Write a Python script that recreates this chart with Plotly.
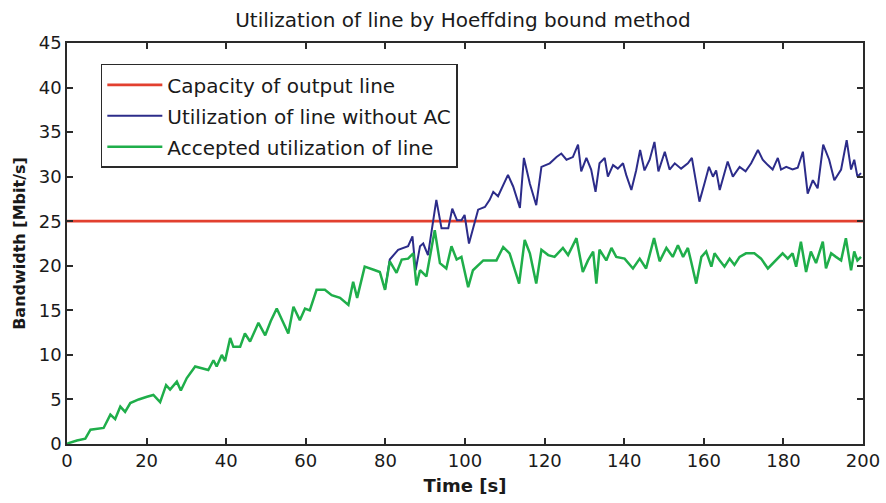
import plotly.graph_objects as go

# Time axis [s] and bandwidth values [Mbit/s]
capacity_t = [0, 200]
capacity_bw = [25, 25]

accepted_t = [
    0.0, 0.4, 2.5, 4.6, 5.9, 9.2, 10.9, 12.1, 13.4, 14.6, 15.9, 18.0, 20.1, 21.7,
    23.4, 24.9, 25.9, 27.6, 28.6, 30.1, 32.2, 35.5, 36.8, 37.6, 38.9, 39.7, 41.0,
    41.8, 43.5, 44.7, 46.0, 48.1, 49.8, 51.2, 52.7, 55.6, 56.9, 58.5, 59.8, 61.0,
    62.7, 64.8, 66.5, 68.6, 70.7, 71.9, 72.9, 74.8, 77.4, 78.6, 79.9, 81.1, 82.8,
    84.1, 85.7, 87.0, 87.8, 88.7, 90.3, 92.4, 93.7, 95.3, 96.6, 97.9, 99.1, 100.8,
    102.0, 104.6, 107.9, 109.6, 111.2, 113.6, 115.0, 116.3, 117.9, 119.2, 120.9,
    122.5, 124.6, 125.9, 128.0, 129.6, 130.9, 132.2, 133.0, 133.8, 135.5, 136.8,
    138.0, 140.1, 142.2, 143.9, 145.5, 147.5, 148.9, 150.6, 152.2, 153.5, 154.8,
    156.0, 156.8, 158.1, 159.4, 160.6, 161.9, 162.7, 164.0, 165.2, 166.5, 167.7,
    169.0, 170.6, 172.7, 174.4, 176.1, 178.2, 179.8, 181.1, 182.3, 183.2, 184.4,
    185.7, 186.9, 188.2, 189.9, 190.7, 192.0, 193.2, 194.5, 195.7, 197.0, 197.8,
    198.6, 199.5,
]
accepted_bw = [
    0.0, 0.1, 0.4, 0.6, 1.6, 1.8, 3.3, 2.8, 4.2, 3.6, 4.6, 5.0, 5.3, 5.5,
    4.7, 6.6, 6.1, 7.0, 6.0, 7.4, 8.7, 8.3, 9.4, 8.7, 10.0, 9.3, 11.9,
    10.9, 10.9, 12.4, 11.5, 13.6, 12.2, 13.8, 15.2, 12.4, 15.4, 13.9, 15.2, 15.0,
    17.3, 17.3, 16.7, 16.4, 15.6, 18.2, 16.4, 19.9, 19.5, 19.3, 17.3, 20.5, 19.2,
    20.7, 20.8, 21.4, 17.8, 19.5, 18.8, 24.0, 20.3, 19.7, 22.2, 20.7, 21.0, 17.6,
    19.5, 20.6, 20.6, 22.1, 21.4, 18.0, 22.9, 21.4, 18.0, 21.8, 21.2,
    21.0, 22.0, 21.2, 23.1, 19.3, 20.6, 21.6, 18.0, 21.8, 20.6, 22.0,
    21.0, 20.8, 19.7, 20.8, 19.7, 23.1, 20.5, 22.0, 21.0, 22.3, 21.0,
    22.0, 20.5, 18.0, 21.0, 21.6, 19.9, 21.4, 20.6, 19.9, 20.8, 20.1,
    21.0, 21.4, 21.4, 20.8, 19.7, 20.6, 21.4, 20.8, 21.4, 19.9, 22.7,
    19.3, 21.6, 20.3, 22.7, 19.7, 21.4, 21.0, 20.6, 23.1, 19.5, 21.6,
    20.6, 21.0,
]

no_ac_t = [
    79.9, 81.1, 83.2, 85.7, 86.8, 87.6, 88.7, 89.5, 90.7, 92.0, 92.8, 94.1, 95.8,
    96.8, 98.0, 99.1, 99.9, 101.0, 102.5, 103.3, 105.0, 106.2, 107.1, 108.3, 110.8,
    112.1, 113.8, 114.8, 116.3, 117.9, 119.2, 121.3, 123.0, 124.2, 125.5, 127.1,
    128.4, 129.2, 130.5, 131.7, 132.8, 133.8, 135.1, 135.9, 137.2, 138.4, 139.7,
    140.5, 141.8, 143.0, 144.0, 145.1, 146.4, 147.6, 148.6, 150.2, 151.4, 152.7,
    154.3, 156.0, 157.0, 157.7, 158.9, 160.2, 161.3, 162.3, 163.1, 164.0, 165.2,
    166.0, 167.3, 169.0, 170.5, 171.9, 173.6, 174.8, 176.1, 177.3, 178.6, 179.4,
    180.7, 182.3, 183.6, 184.9, 186.1, 187.4, 188.6, 190.0, 191.5, 192.8, 194.5,
    195.9, 197.0, 197.8, 198.6, 199.5,
]
no_ac_bw = [
    17.3, 20.7, 21.8, 22.2, 23.3, 19.5, 22.2, 22.5, 21.2, 25.1, 27.4, 24.2, 24.2,
    26.4, 25.1, 25.1, 25.7, 22.5, 25.1, 26.3, 26.6, 27.4, 28.3, 27.8, 30.2,
    28.9, 26.5, 32.1, 29.2, 26.8, 31.1, 31.5, 32.2, 32.6, 31.9, 32.2,
    33.6, 30.6, 32.1, 30.8, 28.3, 31.5, 32.1, 30.0, 31.3, 30.9, 31.5,
    30.2, 28.5, 30.7, 33.0, 30.7, 31.9, 33.9, 30.6, 32.8, 30.8, 31.5,
    30.9, 31.5, 32.1, 30.2, 27.2, 29.3, 31.1, 30.0, 30.7, 28.5, 30.4,
    31.7, 30.0, 31.1, 30.6, 31.5, 33.0, 31.9, 31.3, 30.8, 32.1, 30.8,
    31.1, 30.8, 31.0, 32.8, 28.1, 29.6, 28.7, 33.6, 31.9, 29.6, 30.8,
    34.1, 30.8, 31.9, 30.0, 30.4,
]

FONT = "DejaVu Sans"
AXIS_COLOR = "#2a2a2a"

fig = go.Figure()
fig.add_trace(go.Scatter(
    x=capacity_t, y=capacity_bw, mode="lines",
    name="Capacity of output line", legendgroup="cap",
    line=dict(color="#e2402f", width=2.8),
))
fig.add_trace(go.Scatter(
    x=no_ac_t, y=no_ac_bw, mode="lines",
    name="Utilization of line without AC", legendgroup="noac",
    line=dict(color="#2c2c8a", width=2),
))
fig.add_trace(go.Scatter(
    x=accepted_t, y=accepted_bw, mode="lines",
    name="Accepted utilization of line", legendgroup="acc",
    line=dict(color="#1fae4a", width=2.5),
))

axis_common = dict(
    showline=True, linecolor=AXIS_COLOR, linewidth=1.5, mirror="ticks",
    ticks="inside", ticklen=6, tickwidth=1.5, tickcolor=AXIS_COLOR,
    showgrid=False, zeroline=False, automargin=False,
    tickfont=dict(family=FONT, size=18, color="#1a1a1a"),
)

fig.update_layout(
    width=886, height=503,
    margin=dict(l=67, r=23, t=43, b=59),
    paper_bgcolor="white", plot_bgcolor="white",
    font=dict(family=FONT, color="#1a1a1a"),
    title=dict(
        text="Utilization of line by Hoeffding bound method",
        x=0.5225, xanchor="center", y=0.96, yanchor="middle",
        font=dict(family=FONT, size=20, color="#1a1a1a"),
    ),
    xaxis=dict(
        range=[0, 200], dtick=20, **axis_common,
        title=dict(text="<b>Time [s]</b>", standoff=9,
                   font=dict(family=FONT, size=18, color="#1a1a1a")),
    ),
    yaxis=dict(
        range=[0, 45], dtick=5, **axis_common,
        title=dict(text="<b>Bandwidth [Mbit/s]</b>", standoff=9,
                   font=dict(family=FONT, size=16, color="#1a1a1a")),
    ),
    legend=dict(
        x=0.0425, xanchor="left", y=0.948, yanchor="top",
        bgcolor="white", bordercolor=AXIS_COLOR, borderwidth=1.5,
        font=dict(family=FONT, size=20, color="#1a1a1a"),
        itemwidth=55, tracegroupgap=2,
    ),
    showlegend=True,
)

fig.write_html("out.html")
